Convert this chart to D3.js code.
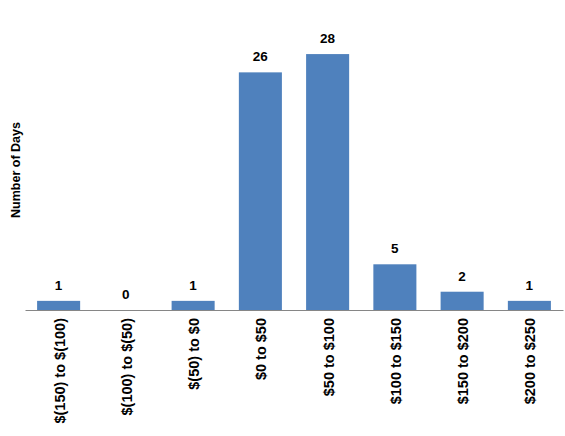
<!DOCTYPE html>
<html>
<head>
<meta charset="utf-8">
<script src="https://cdn.jsdelivr.net/npm/d3@7"></script>
<style>
  body { margin: 0; background: #fff; }
  text { font-family: Arial, "Liberation Sans", sans-serif; font-weight: bold; fill: #000; }
</style>
</head>
<body>
<script>
// bins of daily P&L and how many days fell in each
var categories = ["$(150) to $(100)", "$(100) to $(50)", "$(50) to $0", "$0 to $50",
                  "$50 to $100", "$100 to $150", "$150 to $200", "$200 to $250"];
var days = [1, 0, 1, 26, 28, 5, 2, 1];

var w = 565, h = 436;
var svg = d3.select("body").append("svg")
    .attr("width", w)
    .attr("height", h);

var x = d3.scaleBand()
    .domain(categories)
    .range([25, 563])
    .paddingInner(0.36)
    .paddingOuter(0.18);

var y = d3.scaleLinear()
    .domain([0, 30])
    .range([310, 35.8]);

svg.selectAll("rect.bar")
    .data(days)
    .enter().append("rect")
    .attr("class", "bar")
    .attr("x", function(d, i) { return x(categories[i]); })
    .attr("y", function(d) { return y(d); })
    .attr("width", x.bandwidth())
    .attr("height", function(d) { return y(0) - y(d); })
    .attr("fill", "#4f81bd");

// value labels
svg.selectAll("text.val")
    .data(days)
    .enter().append("text")
    .attr("class", "val")
    .attr("x", function(d, i) { return x(categories[i]) + x.bandwidth() / 2; })
    .attr("y", function(d) { return y(d) - 11; })
    .attr("text-anchor", "middle")
    .style("font-size", "13.5px")
    .text(function(d) { return d; });

// x axis: line only, labels rotated
var xAxis = svg.append("g")
    .attr("transform", "translate(0,310)")
    .call(d3.axisBottom(x).tickSize(0).tickSizeOuter(0));
xAxis.select(".domain").attr("stroke", "#868686");
xAxis.selectAll("text")
    .style("font-size", "14.5px")
    .style("font-family", "Arial, 'Liberation Sans', sans-serif")
    .style("font-weight", "bold")
    .attr("fill", "#000")
    .attr("text-anchor", "end")
    .attr("transform", "rotate(-90)")
    .attr("x", -8)
    .attr("y", 1)
    .attr("dy", "0.35em");

svg.append("text")
    .attr("transform", "translate(19.5,170) rotate(-90)")
    .attr("text-anchor", "middle")
    .style("font-size", "12.5px")
    .text("Number of Days");
</script>
</body>
</html>
